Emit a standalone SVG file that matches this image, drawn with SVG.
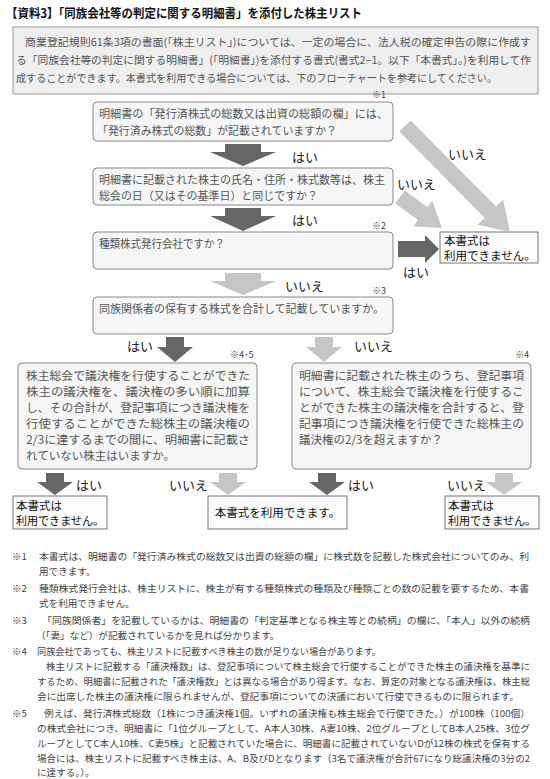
<svg xmlns="http://www.w3.org/2000/svg" width="550" height="779" viewBox="0 0 550 779">
<style>
text{font-family:"Noto Sans CJK JP","Noto Sans CJK SC",sans-serif;}
.title{font-size:12.5px;font-weight:bold;fill:#111;}
.intro{font-size:10.5px;fill:#555;}
.q{font-size:11px;fill:#555;}
.q2{font-size:11.5px;fill:#555;}
.lbl{font-size:13px;fill:#222;}
.note{font-size:9px;fill:#444;}
.res{font-size:11.5px;fill:#111;}
.fn{font-size:9.6px;fill:#444;}
.box{fill:#f6f6f6;stroke:#888;stroke-width:1;}
.rbox{fill:#fbfbfb;stroke:#777;stroke-width:1;}
.ibox{fill:#efefef;stroke:#999;stroke-width:1;}
.dark{fill:#666;}
.light{fill:#c6c6c6;}
</style>
<text class="title" x="6" y="18" textLength="356" lengthAdjust="spacingAndGlyphs">【資料3】「同族会社等の判定に関する明細書」を添付した株主リスト</text>
<g id="intro">
<rect class="ibox" x="13" y="27" width="525" height="67"/>
<text class="intro" x="25" y="46" textLength="506" lengthAdjust="spacingAndGlyphs">商業登記規則61条3項の書面(「株主リスト」)については、一定の場合に、法人税の確定申告の際に作成す</text>
<text class="intro" x="16" y="64" textLength="515" lengthAdjust="spacingAndGlyphs">る「同族会社等の判定に関する明細書」(「明細書」)を添付する書式(書式2−1。以下「本書式」。)を利用して作</text>
<text class="intro" x="16" y="82" textLength="481" lengthAdjust="spacingAndGlyphs">成することができます。本書式を利用できる場合については、下のフローチャートを参考にしてください。</text>
</g>
<g id="q1">
<rect class="box" x="93" y="102" width="300" height="39" rx="4"/>
<text class="q" x="99" y="118" textLength="289" lengthAdjust="spacingAndGlyphs">明細書の「発行済株式の総数又は出資の総額の欄」には、</text>
<text class="q" x="97" y="135" textLength="240" lengthAdjust="spacingAndGlyphs">「発行済み株式の総数」が記載されていますか？</text>
<text class="note" x="372" y="98">※1</text>
</g>
<g id="q2">
<rect class="box" x="93" y="168" width="300" height="37" rx="4"/>
<text class="q" x="99" y="184" textLength="286" lengthAdjust="spacingAndGlyphs">明細書に記載された株主の氏名・住所・株式数等は、株主</text>
<text class="q" x="99" y="200" textLength="219" lengthAdjust="spacingAndGlyphs">総会の日（又はその基準日）と同じですか？</text>
</g>
<g id="q3">
<rect class="box" x="93" y="232" width="300" height="37" rx="4"/>
<text class="q" x="99" y="248" textLength="126" lengthAdjust="spacingAndGlyphs">種類株式発行会社ですか？</text>
<text class="note" x="372" y="229">※2</text>
</g>
<g id="q4">
<rect class="box" x="93" y="297" width="300" height="37" rx="4"/>
<text class="q" x="99" y="313" textLength="285" lengthAdjust="spacingAndGlyphs">同族関係者の保有する株式を合計して記載していますか。</text>
<text class="note" x="372" y="294">※3</text>
</g>
<g id="q5">
<rect class="box" x="18" y="363" width="239" height="106" rx="4"/>
<text class="q2" x="26" y="380" textLength="224" lengthAdjust="spacingAndGlyphs">株主総会で議決権を行使することができた</text>
<text class="q2" x="26" y="396" textLength="224" lengthAdjust="spacingAndGlyphs">株主の議決権を、議決権の多い順に加算</text>
<text class="q2" x="26" y="412" textLength="224" lengthAdjust="spacingAndGlyphs">し、その合計が、登記事項につき議決権を</text>
<text class="q2" x="26" y="428" textLength="224" lengthAdjust="spacingAndGlyphs">行使することができた総株主の議決権の</text>
<text class="q2" x="26" y="444" textLength="224" lengthAdjust="spacingAndGlyphs">2/3に達するまでの間に、明細書に記載さ</text>
<text class="q2" x="26" y="460">れていない株主はいますか。</text>
<text class="note" x="230" y="358">※4･5</text>
</g>
<g id="q6">
<rect class="box" x="292" y="363" width="239" height="106" rx="4"/>
<text class="q2" x="299" y="380" textLength="225" lengthAdjust="spacingAndGlyphs">明細書に記載された株主のうち、登記事項</text>
<text class="q2" x="299" y="396" textLength="225" lengthAdjust="spacingAndGlyphs">について、株主総会で議決権を行使するこ</text>
<text class="q2" x="299" y="412" textLength="225" lengthAdjust="spacingAndGlyphs">とができた株主の議決権を合計すると、登</text>
<text class="q2" x="299" y="428" textLength="225" lengthAdjust="spacingAndGlyphs">記事項につき議決権を行使できた総株主の</text>
<text class="q2" x="299" y="444">議決権の2/3を超えますか？</text>
<text class="note" x="515" y="358">※4</text>
</g>
<g id="r1">
<rect class="rbox" x="440" y="232" width="98" height="31"/>
<text class="res" x="444" y="245">本書式は</text>
<text class="res" x="444" y="260">利用できません。</text>
</g>
<g id="r2">
<rect class="rbox" x="13" y="496" width="94" height="33"/>
<text class="res" x="16" y="510">本書式は</text>
<text class="res" x="16" y="525" textLength="88" lengthAdjust="spacingAndGlyphs">利用できません。</text>
</g>
<g id="r3">
<rect class="rbox" x="208" y="496" width="139" height="33"/>
<text class="res" x="277.5" y="517" text-anchor="middle">本書式を利用できます。</text>
</g>
<g id="r4">
<rect class="rbox" x="445" y="496" width="94" height="33"/>
<text class="res" x="448" y="510">本書式は</text>
<text class="res" x="448" y="525" textLength="88" lengthAdjust="spacingAndGlyphs">利用できません。</text>
</g>
<g id="connectors">
<polygon class="dark" points="225,144 261,144 261,152 276,152 243,166 210,152 225,152"/>
<text class="lbl" x="292" y="162">はい</text>
<polygon class="dark" points="225,208 261,208 261,216 276,216 243,231 210,216 225,216"/>
<text class="lbl" x="292" y="225">はい</text>
<polygon class="light" points="225,273 261,273 261,281 276,281 243,295 210,281 225,281"/>
<text class="lbl" x="285" y="291">いいえ</text>
<polygon class="light" points="399.3,131.6 410.7,120.4 496,206.5 503.1,199.4 510,232 477.5,224.8 484.6,217.7"/>
<text class="lbl" x="448" y="159">いいえ</text>
<polygon class="light" points="395.2,203.4 404.8,190.6 427.5,207.3 432.2,200.8 442,228 413.2,226.6 418,220.1"/>
<text class="lbl" x="397" y="189">いいえ</text>
<polygon class="dark" points="398,241 425,241 425,235 439,249 425,263 425,257 398,257"/>
<text class="lbl" x="403" y="277">はい</text>
<polygon class="dark" points="166,337 184,337 184,347 193,347 175,362 157,347 166,347"/>
<text class="lbl" x="127" y="351">はい</text>
<polygon class="light" points="315,337 333,337 333,347 342,347 324,362 306,347 315,347"/>
<text class="lbl" x="354" y="351">いいえ</text>
<polygon class="dark" points="46,473 64,473 64,482 73,482 55,495 37,482 46,482"/>
<text class="lbl" x="76" y="490">はい</text>
<polygon class="light" points="219,473 237,473 237,482 246,482 228,495 210,482 219,482"/>
<text class="lbl" x="169" y="490">いいえ</text>
<polygon class="dark" points="318,473 336,473 336,482 345,482 327,495 309,482 318,482"/>
<text class="lbl" x="348" y="490">はい</text>
<polygon class="light" points="495,473 513,473 513,482 522,482 504,495 486,482 495,482"/>
<text class="lbl" x="447" y="490">いいえ</text>
</g>
<g id="footnotes">
<text class="fn" x="12" y="560">※1</text>
<text class="fn" x="39" y="560" textLength="490" lengthAdjust="spacingAndGlyphs">本書式は、明細書の「発行済み株式の総数又は出資の総額の欄」に株式数を記載した株式会社についてのみ、利</text>
<text class="fn" x="39" y="575">用できます。</text>
<text class="fn" x="12" y="592">※2</text>
<text class="fn" x="39" y="592" textLength="490" lengthAdjust="spacingAndGlyphs">種類株式発行会社は、株主リストに、株主が有する種類株式の種類及び種類ごとの数の記載を要するため、本書</text>
<text class="fn" x="39" y="607">式を利用できません。</text>
<text class="fn" x="12" y="624">※3</text>
<text class="fn" x="42" y="624" textLength="488" lengthAdjust="spacingAndGlyphs">「同族関係者」を記載しているかは、明細書の「判定基準となる株主等との続柄」の欄に、「本人」以外の続柄</text>
<text class="fn" x="36" y="639">（「妻」など）が記載されているかを見れば分かります。</text>
<text class="fn" x="12" y="655">※4</text>
<text class="fn" x="37" y="655" textLength="344" lengthAdjust="spacingAndGlyphs">同族会社であっても、株主リストに記載すべき株主の数が足りない場合があります。</text>
<text class="fn" x="46" y="670" textLength="484" lengthAdjust="spacingAndGlyphs">株主リストに記載する「議決権数」は、登記事項について株主総会で行使することができた株主の議決権を基準に</text>
<text class="fn" x="37" y="685" textLength="493" lengthAdjust="spacingAndGlyphs">するため、明細書に記載された「議決権数」とは異なる場合があり得ます。なお、算定の対象となる議決権は、株主総</text>
<text class="fn" x="37" y="700" textLength="482" lengthAdjust="spacingAndGlyphs">会に出席した株主の議決権に限られませんが、登記事項についての決議において行使できるものに限られます。</text>
<text class="fn" x="12" y="717">※5</text>
<text class="fn" x="44" y="717" textLength="486" lengthAdjust="spacingAndGlyphs">例えば、発行済株式総数（1株につき議決権1個。いずれの議決権も株主総会で行使できた。）が100株（100個）</text>
<text class="fn" x="37" y="732" textLength="493" lengthAdjust="spacingAndGlyphs">の株式会社につき、明細書に「1位グループとして、A本人30株、A妻10株、2位グループとしてB本人25株、3位グ</text>
<text class="fn" x="37" y="747" textLength="493" lengthAdjust="spacingAndGlyphs">ループとしてC本人10株、C妻5株」と記載されていた場合に、明細書に記載されていないDが12株の株式を保有する</text>
<text class="fn" x="37" y="762" textLength="493" lengthAdjust="spacingAndGlyphs">場合には、株主リストに記載すべき株主は、A、B及びDとなります（3名で議決権が合計67になり総議決権の3分の2</text>
<text class="fn" x="37" y="776">に達する。）。</text>
</g>
</svg>
